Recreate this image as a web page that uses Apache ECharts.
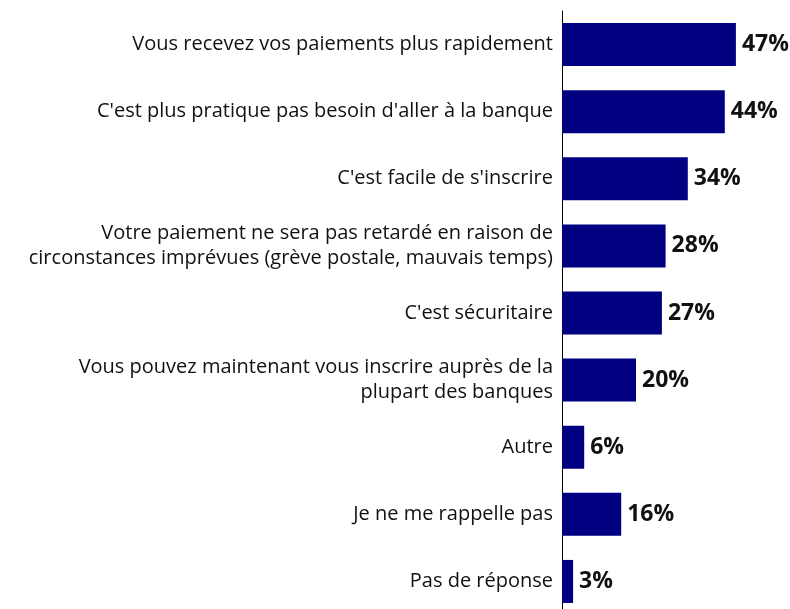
<!DOCTYPE html>
<html>
<head>
<meta charset="utf-8">
<script src="https://cdn.jsdelivr.net/npm/echarts@6/dist/echarts.min.js"></script>
<style>
  html, body { margin: 0; padding: 0; background: #fff; }
  #chart { width: 790px; height: 609px; }
</style>
</head>
<body>
<div id="chart"></div>
<script>
// categories, top to bottom
var categories = [
  "Vous recevez vos paiements plus rapidement",
  "C'est plus pratique pas besoin d'aller à la banque",
  "C'est facile de s'inscrire",
  "Votre paiement ne sera pas retardé en raison de\ncirconstances imprévues (grève postale, mauvais temps)",
  "C'est sécuritaire",
  "Vous pouvez maintenant vous inscrire auprès de la\nplupart des banques",
  "Autre",
  "Je ne me rappelle pas",
  "Pas de réponse"
];
var values = [47, 44, 34, 28, 27, 20, 6, 16, 3];

var chart = echarts.init(document.getElementById("chart"));
chart.setOption({
  animation: false,
  grid: {
    left: 562,
    right: 6,
    top: 11,
    height: 604,
    outerBoundsMode: "none",
    containLabel: false
  },
  xAxis: {
    type: "value",
    min: 0,
    max: 60,
    show: false
  },
  yAxis: {
    type: "category",
    inverse: true,
    data: categories,
    axisLine: { show: true, lineStyle: { color: "#000", width: 1 } },
    axisTick: { show: false },
    axisLabel: {
      color: "#111",
      fontFamily: "Open Sans",
      fontSize: 20,
      lineHeight: 25,
      margin: 9,
      align: "right"
    }
  },
  series: [
    {
      type: "bar",
      data: values,
      barWidth: 43,
      itemStyle: { color: "#000080" },
      label: {
        show: true,
        position: "right",
        distance: 6,
        formatter: "{c}%",
        color: "#111",
        fontFamily: "Open Sans",
        fontWeight: "bold",
        fontSize: 23
      }
    }
  ]
});
</script>
</body>
</html>
